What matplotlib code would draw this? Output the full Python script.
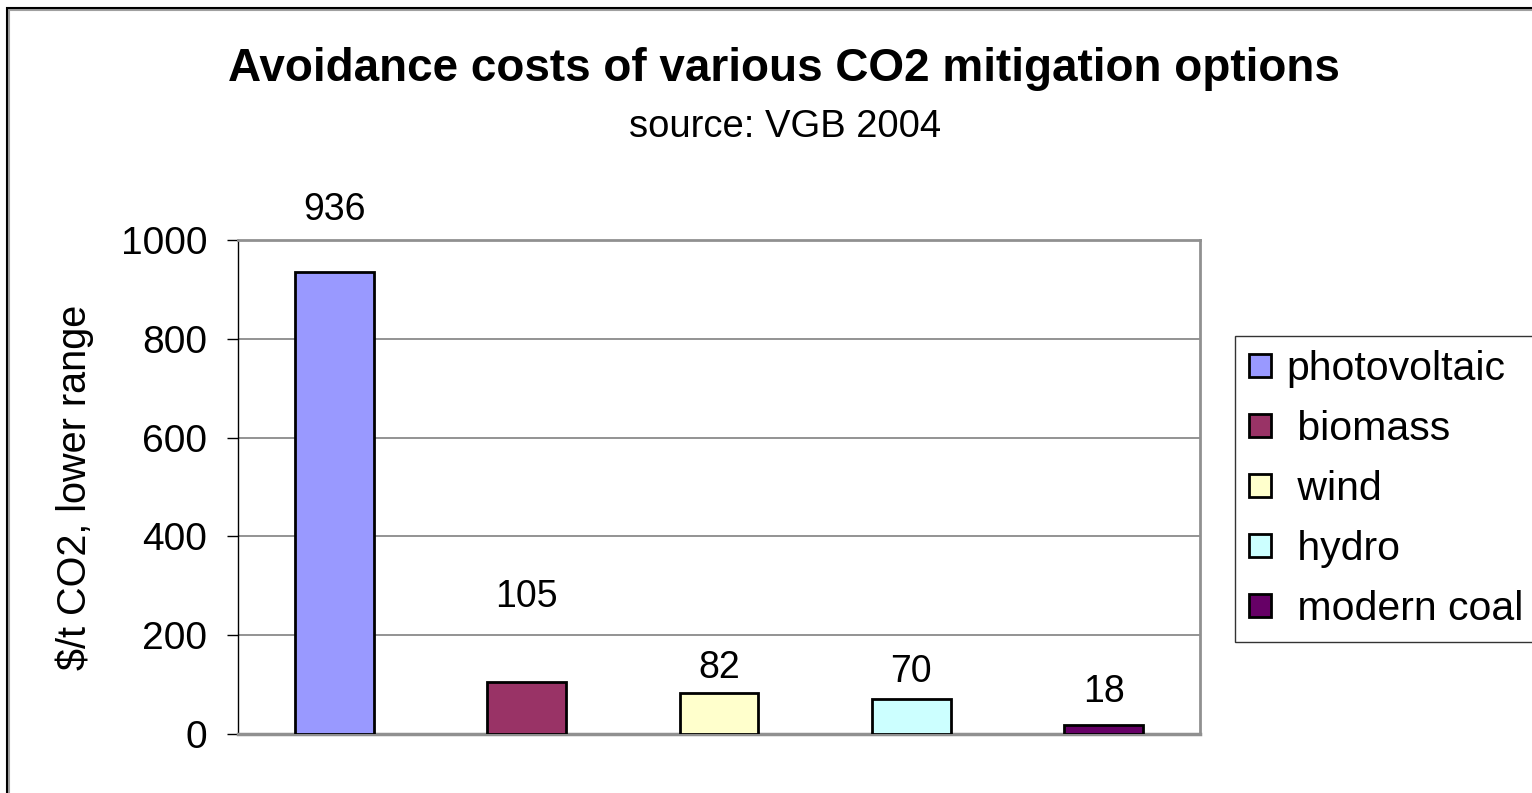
import matplotlib
matplotlib.use("Agg")
import matplotlib.pyplot as plt
from matplotlib.patches import Rectangle, Patch

# Avoidance costs, $/t CO2 (lower range)
options = ["photovoltaic", " biomass", " wind", " hydro", " modern coal"]
costs = [936, 105, 82, 70, 18]
colors = ["#9999FF", "#993366", "#FFFFCC", "#CCFFFF", "#660066"]
yticks = [0, 200, 400, 600, 800, 1000]

# baseline offsets (points) of the value labels above each bar top
label_offsets = [37, 54, 11, 12.5, 16.5]

W, H = 1532, 793
plt.rcParams["font.family"] = ["Liberation Sans", "DejaVu Sans"]
fig = plt.figure(figsize=(W / 100, H / 100), dpi=100)

# outer chart border with a light shadow
fig.patches.append(Rectangle((9 / W, -0.1), 1.2, 1 - 10 / H + 0.1, transform=fig.transFigure,
                             fill=False, edgecolor="#A0A0A0", linewidth=1.5, zorder=0))
fig.patches.append(Rectangle((7 / W, -0.1), 1.2, 1 - 8 / H + 0.1, transform=fig.transFigure,
                             fill=False, edgecolor="black", linewidth=1.5, zorder=1))

ax = fig.add_axes([238 / W, 1 - 734 / H, (1200 - 238) / W, (734 - 240) / H])

x = list(range(len(costs)))
bars = ax.bar(x, costs, width=0.41, color=colors, edgecolor="black", linewidth=2, zorder=3)

for rect, val, off in zip(bars, costs, label_offsets):
    ax.annotate(str(val), (rect.get_x() + rect.get_width() / 2, rect.get_height()),
                xytext=(0, off), textcoords="offset points", ha="center", va="baseline",
                fontsize=27)

ax.set_xlim(-0.5, len(costs) - 0.5)
ax.set_ylim(0, 1000)
ax.set_yticks(yticks)
ax.set_yticklabels([str(t) for t in yticks], fontsize=28)
ax.set_xticks([])
ax.tick_params(axis="y", direction="out", length=8, width=1, pad=14)
ax.yaxis.grid(True, color="#808080", linewidth=1.2, zorder=0)
ax.set_axisbelow(True)

for side in ["top", "right"]:
    ax.spines[side].set_color("#909090")
    ax.spines[side].set_linewidth(2)
ax.spines["bottom"].set_color("#909090")
ax.spines["bottom"].set_linewidth(2.5)
ax.spines["left"].set_color("black")
ax.spines["left"].set_linewidth(1)

ax.set_ylabel("$/t CO2, lower range", fontsize=28.5)
ax.yaxis.set_label_coords((94 - 238) / (1200 - 238), 0.5)

fig.text(784 / W, 1 - 81 / H, "Avoidance costs of various CO2 mitigation options",
         ha="center", va="baseline", fontsize=33, fontweight="bold")
fig.text(785 / W, 1 - 137 / H, "source: VGB 2004", ha="center", va="baseline", fontsize=27.5)

handles = [Patch(facecolor=c, edgecolor="black", linewidth=2) for c in colors]
leg = fig.legend(handles, options, loc="upper left",
                 bbox_to_anchor=(1235 / W, 1 - 336 / H), fontsize=29.5,
                 frameon=True, fancybox=False, edgecolor="black",
                 handlelength=0.54, handleheight=0.49, handletextpad=0.37,
                 labelspacing=0.54, borderpad=0.34, borderaxespad=0)
leg.get_frame().set_linewidth(1)

fig.savefig("out.png", dpi=100)
